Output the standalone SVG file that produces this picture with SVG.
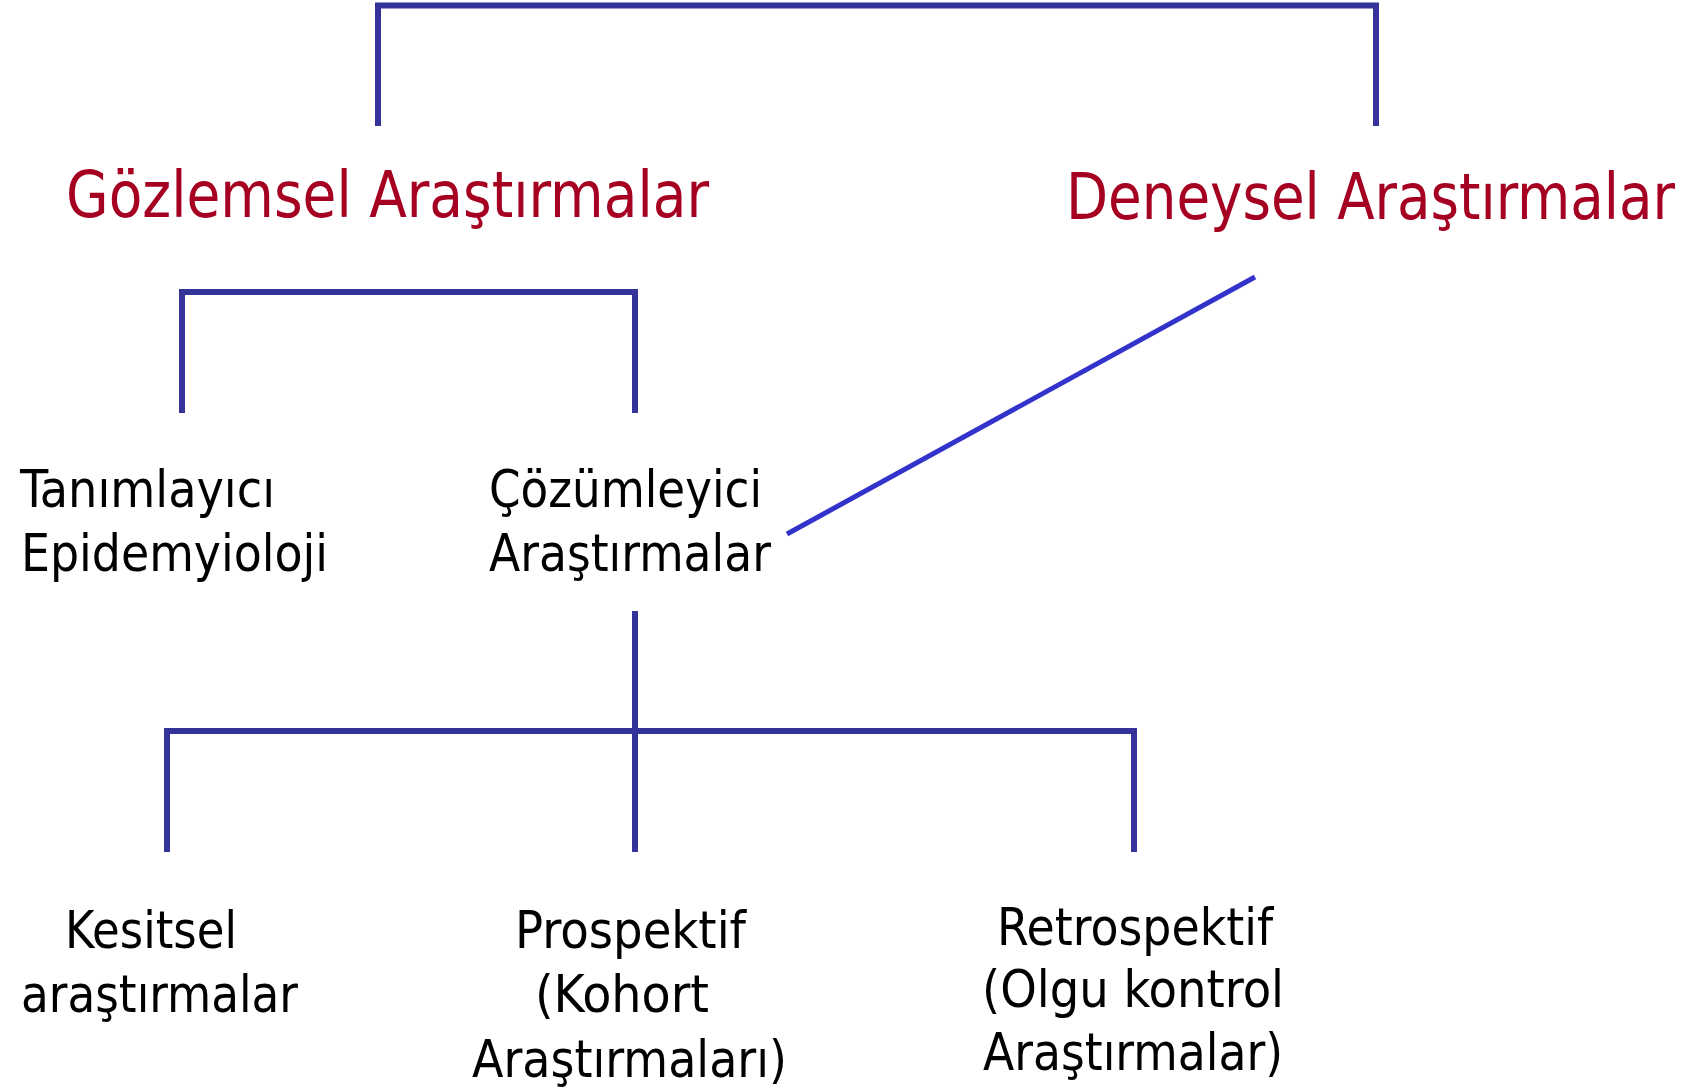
<svg xmlns="http://www.w3.org/2000/svg" width="1695" height="1088" viewBox="0 0 1695 1088">
<style>
.conn{stroke:#333399;stroke-width:6;fill:none;stroke-linecap:butt}
.diag{stroke:#3333CC;stroke-width:5;fill:none}
.red{font-family:"DejaVu Sans Condensed","DejaVu Sans","Liberation Sans",sans-serif;font-stretch:condensed;font-size:64px;fill:#A50021}
.blk{font-family:"DejaVu Sans Condensed","DejaVu Sans","Liberation Sans",sans-serif;font-stretch:condensed;font-size:52px;fill:#000000}
</style>
<rect width="1695" height="1088" fill="#FFFFFF"/>
<g id="connectors">
<path class="conn" d="M378,126 V5.5 H1376 V126"/>
<path class="conn" d="M182,413 V292 H635 V413"/>
<path class="diag" d="M787,534 L1255,277"/>
<path class="conn" d="M635,611 V852"/>
<path class="conn" d="M167,852 V731 H1134 V852"/>
</g>
<g id="gozlemsel"><text class="red" x="66" y="217" textLength="643" lengthAdjust="spacingAndGlyphs">Gözlemsel Araştırmalar</text></g>
<g id="deneysel"><text class="red" x="1066" y="219" textLength="609" lengthAdjust="spacingAndGlyphs">Deneysel Araştırmalar</text></g>
<g id="tanimlayici">
<text class="blk" x="20" y="507" textLength="255" lengthAdjust="spacingAndGlyphs">Tanımlayıcı</text>
<text class="blk" x="21" y="571" textLength="307" lengthAdjust="spacingAndGlyphs">Epidemyioloji</text>
</g>
<g id="cozumleyici">
<text class="blk" x="489" y="507" textLength="273" lengthAdjust="spacingAndGlyphs">Çözümleyici</text>
<text class="blk" x="489" y="571" textLength="282" lengthAdjust="spacingAndGlyphs">Araştırmalar</text>
</g>
<g id="kesitsel">
<text class="blk" x="65" y="948" textLength="172" lengthAdjust="spacingAndGlyphs">Kesitsel</text>
<text class="blk" x="21" y="1012" textLength="277" lengthAdjust="spacingAndGlyphs">araştırmalar</text>
</g>
<g id="prospektif">
<text class="blk" x="515" y="948" textLength="231" lengthAdjust="spacingAndGlyphs">Prospektif</text>
<text class="blk" x="535" y="1012" textLength="174" lengthAdjust="spacingAndGlyphs">(Kohort</text>
<text class="blk" x="472" y="1077" textLength="315" lengthAdjust="spacingAndGlyphs">Araştırmaları)</text>
</g>
<g id="retrospektif">
<text class="blk" x="997" y="945" textLength="276" lengthAdjust="spacingAndGlyphs">Retrospektif</text>
<text class="blk" x="982" y="1007" textLength="302" lengthAdjust="spacingAndGlyphs">(Olgu kontrol</text>
<text class="blk" x="983" y="1070" textLength="300" lengthAdjust="spacingAndGlyphs">Araştırmalar)</text>
</g>
</svg>
